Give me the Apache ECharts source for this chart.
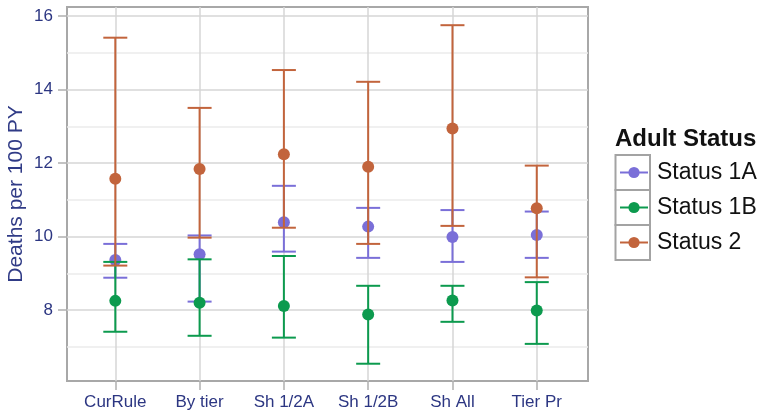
<!DOCTYPE html>
<html>
<head>
<meta charset="utf-8">
<script src="https://cdn.jsdelivr.net/npm/echarts@6/dist/echarts.min.js"></script>
<style>
  html, body { margin: 0; padding: 0; background: #ffffff; }
  #chart { width: 759px; height: 414px; }
</style>
</head>
<body>
<div id="chart"></div>
<script>
// Mortality estimates (deaths per 100 person-years) with 95% intervals, by allocation rule
const categories = ['CurRule', 'By tier', 'Sh 1/2A', 'Sh 1/2B', 'Sh All', 'Tier Pr'];

const status1aMean  = [9.36, 9.52, 10.39, 10.27, 9.99, 10.04];
const status1aLower = [8.88, 8.23, 9.59, 9.42, 9.31, 9.42];
const status1aUpper = [9.80, 10.03, 11.38, 10.78, 10.72, 10.68];

const status1bMean  = [8.25, 8.20, 8.11, 7.88, 8.26, 7.99];
const status1bLower = [7.41, 7.30, 7.25, 6.54, 7.68, 7.08];
const status1bUpper = [9.31, 9.38, 9.47, 8.66, 8.66, 8.76];

const status2Mean  = [11.57, 11.84, 12.24, 11.90, 12.94, 10.77];
const status2Lower = [9.21, 9.97, 10.24, 9.80, 10.29, 8.89];
const status2Upper = [15.41, 13.50, 14.53, 14.21, 15.75, 11.93];

const yMajorTicks = [8, 10, 12, 14, 16];
const yMinorTicks = [7, 9, 11, 13, 15];

const groups = [
  { name: 'Status 1A', color: '#7a6fd8', mean: status1aMean, lower: status1aLower, upper: status1aUpper },
  { name: 'Status 1B', color: '#0c9a4e', mean: status1bMean, lower: status1bLower, upper: status1bUpper },
  { name: 'Status 2',  color: '#c2643c', mean: status2Mean,  lower: status2Lower,  upper: status2Upper }
];

const labelColor = '#2c3682';
const fontFamily = '"Liberation Sans", Arial, sans-serif';

function errorBarRenderer(color) {
  return function (params, api) {
    const x = api.value(0);
    const lo = api.coord([x, api.value(1)]);
    const hi = api.coord([x, api.value(2)]);
    const half = 12;
    const style = { stroke: color, lineWidth: 2 };
    return {
      type: 'group',
      children: [
        { type: 'line', shape: { x1: lo[0], y1: lo[1], x2: hi[0], y2: hi[1] }, style: style },
        { type: 'line', shape: { x1: lo[0] - half, y1: lo[1], x2: lo[0] + half, y2: lo[1] }, style: style },
        { type: 'line', shape: { x1: hi[0] - half, y1: hi[1], x2: hi[0] + half, y2: hi[1] }, style: style }
      ]
    };
  };
}

const series = [];
// point series first so the legend picks up their line+dot icons
groups.forEach(function (g, k) {
  series.push({
    name: g.name,
    type: 'line',
    xAxisIndex: 0,
    yAxisIndex: 0,
    z: 3 + k * 2,
    symbol: 'circle',
    symbolSize: 12,
    showSymbol: true,
    lineStyle: { opacity: 0, width: 0 },
    itemStyle: { color: g.color },
    emphasis: { disabled: true },
    animation: false,
    data: g.mean.map(function (v, i) { return [i, v]; })
  });
});
groups.forEach(function (g, k) {
  series.push({
    name: g.name,
    type: 'custom',
    xAxisIndex: 0,
    yAxisIndex: 0,
    z: 2 + k * 2,
    renderItem: errorBarRenderer(g.color),
    encode: { x: 0, y: [1, 2] },
    animation: false,
    data: g.lower.map(function (v, i) { return [i, v, g.upper[i]]; })
  });
});

const chart = echarts.init(document.getElementById('chart'), null, { renderer: 'canvas' });

chart.setOption({
  backgroundColor: '#ffffff',
  animation: false,
  textStyle: { fontFamily: fontFamily },
  title: {
    text: 'Adult Status',
    left: 615,
    top: 127,
    padding: 0,
    textStyle: { fontFamily: fontFamily, fontSize: 24, fontWeight: 'bold', color: '#111111' }
  },
  legend: {
    orient: 'vertical',
    left: 619,
    top: 160,
    padding: 0,
    itemWidth: 28,
    itemHeight: 14,
    itemGap: 10,
    selectedMode: false,
    data: groups.map(function (g) { return g.name; }),
    lineStyle: { width: 2, opacity: 1 },
    textStyle: {
      fontFamily: fontFamily,
      fontSize: 23,
      lineHeight: 25,
      color: '#111111',
      padding: [0, 0, 0, 4]
    }
  },
  graphic: [0, 1, 2].map(function (r) {
    return {
      type: 'rect',
      shape: { x: 615.5, y: 155 + r * 35, width: 34.5, height: 35 },
      style: { fill: 'none', stroke: '#a3a3a3', lineWidth: 2 },
      silent: true
    };
  }),
  grid: {
    left: 67,
    right: 171,
    top: 7,
    bottom: 33,
    outerBoundsMode: 'none',
    containLabel: false,
    show: true,
    borderColor: '#a8a8a8',
    borderWidth: 2,
    backgroundColor: 'transparent'
  },
  xAxis: [{
    type: 'value',
    min: -0.573,
    max: 5.608,
    axisLine: { show: false, onZero: false },
    axisTick: {
      show: true,
      customValues: [0, 1, 2, 3, 4, 5],
      length: 9,
      lineStyle: { color: '#b0b0b0', width: 1.5 }
    },
    axisLabel: {
      customValues: [0, 1, 2, 3, 4, 5],
      formatter: function (v) { return categories[Math.round(v)]; },
      margin: 13,
      fontFamily: fontFamily,
      fontSize: 17,
      color: labelColor
    },
    splitLine: { show: true, lineStyle: { color: '#d6d6d6', width: 1.5 } }
  }],
  yAxis: [{
    type: 'value',
    min: 6.07,
    max: 16.245,
    name: 'Deaths per 100 PY',
    nameLocation: 'middle',
    nameGap: 40,
    nameMoveOverlap: false,
    nameTextStyle: { fontFamily: fontFamily, fontSize: 21, color: '#303b86' },
    axisLine: { show: false, onZero: false },
    axisTick: {
      show: true,
      customValues: yMajorTicks,
      length: 9,
      lineStyle: { color: '#b0b0b0', width: 1.5 }
    },
    axisLabel: {
      customValues: yMajorTicks,
      margin: 14,
      fontFamily: fontFamily,
      fontSize: 17,
      color: labelColor
    },
    splitLine: { show: true, lineStyle: { color: '#d6d6d6', width: 1.5 } }
  }, {
    // lighter grid lines at the odd values
    type: 'value',
    min: 6.07,
    max: 16.245,
    position: 'left',
    axisLine: { show: false, onZero: false },
    axisTick: { show: false, customValues: yMinorTicks },
    axisLabel: { show: false, customValues: yMinorTicks },
    splitLine: { show: true, lineStyle: { color: '#ebebeb', width: 1.5 } }
  }],
  series: series
});
</script>
</body>
</html>
